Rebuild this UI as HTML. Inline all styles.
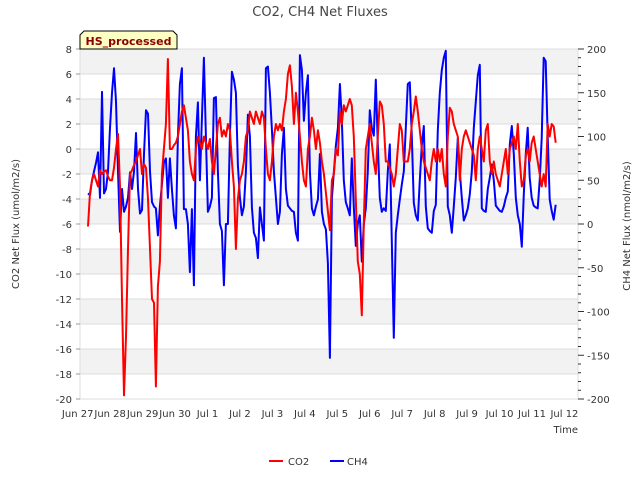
<!DOCTYPE html>
<html><head><meta charset="utf-8"><style>
body{margin:0;background:#fff;}
svg{display:block;font-family:"DejaVu Sans","Liberation Sans",sans-serif;}
</style></head><body>
<svg id="chart" width="640" height="480">
<rect x="0" y="0" width="640" height="480" fill="#fff"/>
<g id="bands"></g>
<g id="grid"></g>
<rect x="80" y="49" width="498" height="350" fill="none" stroke="#ddd" stroke-width="1"/>
<g id="lines"></g>
<g id="axes"></g>
<text x="320" y="16" text-anchor="middle" font-size="13" fill="#444">CO2, CH4 Net Fluxes</text>
<text transform="translate(19,224) rotate(-90)" text-anchor="middle" font-size="10" fill="#333">CO2 Net Flux (umol/m2/s)</text>
<text transform="translate(630,226) rotate(-90)" text-anchor="middle" font-size="10" fill="#333">CH4 Net Flux (nmol/m2/s)</text>
<text x="578" y="433" text-anchor="end" font-size="10" fill="#333">Time</text>
<g>
<path d="M80,49 L80,35 L84,31 L173,31 L177,35 L177,49 Z" fill="#ffffc4" stroke="#000" stroke-width="1"/>
<text x="128.5" y="45" text-anchor="middle" font-size="11" font-weight="bold" fill="#8b0000">HS_processed</text>
</g>
<g>
<g><line x1="269" y1="461" x2="283" y2="461" stroke="#f00" stroke-width="2"/><text x="288" y="465" font-size="10" fill="#333">CO2</text></g>
<g><line x1="330" y1="461" x2="344" y2="461" stroke="#00f" stroke-width="2"/><text x="347" y="465" font-size="10" fill="#333">CH4</text></g>
</g>
</svg>
<script>
// time in days since Jun 27 00:00; uniform sampling
const co2Start = 0.317, co2Step = 0.0616;
const co2Values = [-6.2,-3.5,-2.5,-2,-2.5,-3,-1.7,-2,-1.8,-1.7,-2.2,-2.5,-2.5,-1.5,0,1.2,-3,-12,-19.7,-15,-8,-2,-1.7,-1.3,-1,-0.5,0,-2,-1.2,-1.5,-4,-8,-12,-12.3,-19,-11,-9,-2,0,2,7.2,0,0,0.3,0.5,1,2,3,3.5,2.5,1.5,-1,-2,-2.5,0,1,0.5,0,1,0.5,0,0.8,-1,-2,0,2,2.5,1,1.5,1,2,1.5,-1,-3,-8,-4,-2.5,-2,-1,1,1.5,3,2.5,2,3,2.5,2,3,2.5,0,-2,-2.5,-1,1,2,1.5,2,1.5,3,4,6,6.7,5,2,4.5,3,1,-1,-2.5,-3,0,1,2.5,1.5,0,1.5,0.5,-1,-2,-3.5,-5,-6.5,-2.5,-2,0,-0.5,3,2,3.5,3,3.5,4,3.5,1,-4,-9,-10,-13.3,-6,0,1,2,0.5,-1,-2,1,3.8,3.5,2,-1,-1,-1.5,-2,-3,-2,0,2,1.5,-1,-1,-1,0,2,3,4.2,3,1.5,0,-1,-1.5,-2,-2.5,-1,0,-1,0,-1,0,-2,-3,1,3.3,3,2,1.5,1,-2.5,0,1,1.5,1,0.5,0,-0.5,-2.5,0,1,0,-1,1.5,2,-1,-2,-1,-2,-2.5,-3,-2,-1,0,-2,0,0.5,1,0,2,-1,-3,-2.5,-0.5,0,-1,0.5,1,0,-1,-2,-3,-2,-3,2,1,2,1.8,0.5];
const ch4Start = 0.317, ch4Step = 0.0616;
const ch4Values = [35,33,50,60,70,82,30,151,35,40,60,110,150,178,140,60,-9,40,14,20,30,59,40,60,104,40,12,16,80,130,126,60,25,20,18,-13,20,45,70,75,30,75,40,10,-5,100,160,178,17,17,0,-55,17,-70,100,139,50,120,190,100,14,20,30,144,145,60,0,-8,-70,0,0,100,174,165,150,67,30,10,20,60,125,100,19,-10,-16,-39,19,0,-19,178,180,150,108,60,30,0,14,80,110,40,21,18,15,14,-10,-19,193,176,118,150,170,60,18,10,20,28,80,14,0,-6,-45,-153,30,60,90,110,160,120,50,25,18,10,75,20,-25,0,10,-43,0,18,60,130,110,101,165,91,30,14,18,15,60,91,-20,-130,-10,10,28,45,60,110,160,162,100,24,10,4,50,90,112,20,-5,-8,-10,15,22,107,150,176,190,198,20,10,-10,20,53,98,60,30,4,10,18,34,60,110,140,170,182,18,15,14,40,53,68,50,21,18,15,14,20,30,37,91,112,80,30,10,0,-26,34,80,110,53,30,21,19,18,50,98,190,186,100,28,15,5,22];
const leftTicks = [8,6,4,2,0,-2,-4,-6,-8,-10,-12,-14,-16,-18,-20];
const rightTicks = [200,150,100,50,0,-50,-100,-150,-200];
const xTickLabels = ["Jun 27","Jun 28","Jun 29","Jun 30","Jul 1","Jul 2","Jul 3","Jul 4","Jul 5","Jul 6","Jul 7","Jul 8","Jul 9","Jul 10","Jul 11","Jul 12"];

const NS="http://www.w3.org/2000/svg";
const X0=77.7, PXD=32.45;
function xs(t){return X0+t*PXD;}
function yL(v){return 49+(8-v)*12.5;}
function yR(v){return 49+(200-v)*350/400;}
function mk(tag,attrs,parent){const e=document.createElementNS(NS,tag);for(const k in attrs)e.setAttribute(k,attrs[k]);parent.appendChild(e);return e;}
const bands=document.getElementById('bands'),grid=document.getElementById('grid'),lines=document.getElementById('lines'),axes=document.getElementById('axes');
for(let i=0;i<leftTicks.length-1;i++){
  if(i%2===0){const b=mk('rect',{x:80,y:yL(leftTicks[i]),width:498,height:yL(leftTicks[i+1])-yL(leftTicks[i]),fill:'#f2f2f2'},bands);
  
  }
}
leftTicks.forEach(v=>{
  const g=mk('line',{x1:80,x2:578,y1:yL(v),y2:yL(v),stroke:'#dcdcdc','stroke-width':1},grid);
  
  
  const tk=mk('line',{x1:76,x2:80,y1:yL(v),y2:yL(v),stroke:'#999'},axes);
  
  
  const t=mk('text',{x:72,y:yL(v)+4,'text-anchor':'end','font-size':10,fill:'#333'},axes);t.textContent=v;
  
  
});
for(let v=-200;v<=200;v+=10){
  const major=v%50===0;
  const tk=mk('line',{x1:578,x2:major?584:581,y1:yR(v),y2:yR(v),stroke:'#333'},axes);
  
  
}
rightTicks.forEach(v=>{
  const t=mk('text',{x:587,y:yR(v)+4,'font-size':10,fill:'#333'},axes);t.textContent=v;
  
  
});
xTickLabels.forEach((s,i)=>{
  const t=mk('text',{x:xs(i),y:417,'text-anchor':'middle','font-size':10,fill:'#333'},axes);t.textContent=s;
  
  
});
function path(vals,start,step,yf){return vals.map((v,i)=>(i?'L':'M')+xs(start+i*step).toFixed(1)+','+yf(v).toFixed(1)).join(' ');}
const pCh4=mk('path',{d:path(ch4Values,ch4Start,ch4Step,yR),fill:'none',stroke:'#00f','stroke-width':2,'stroke-linejoin':'round'},lines);


const pCo2=mk('path',{d:path(co2Values,co2Start,co2Step,yL),fill:'none',stroke:'#f00','stroke-width':2,'stroke-linejoin':'round'},lines);


</script>
</body></html>
